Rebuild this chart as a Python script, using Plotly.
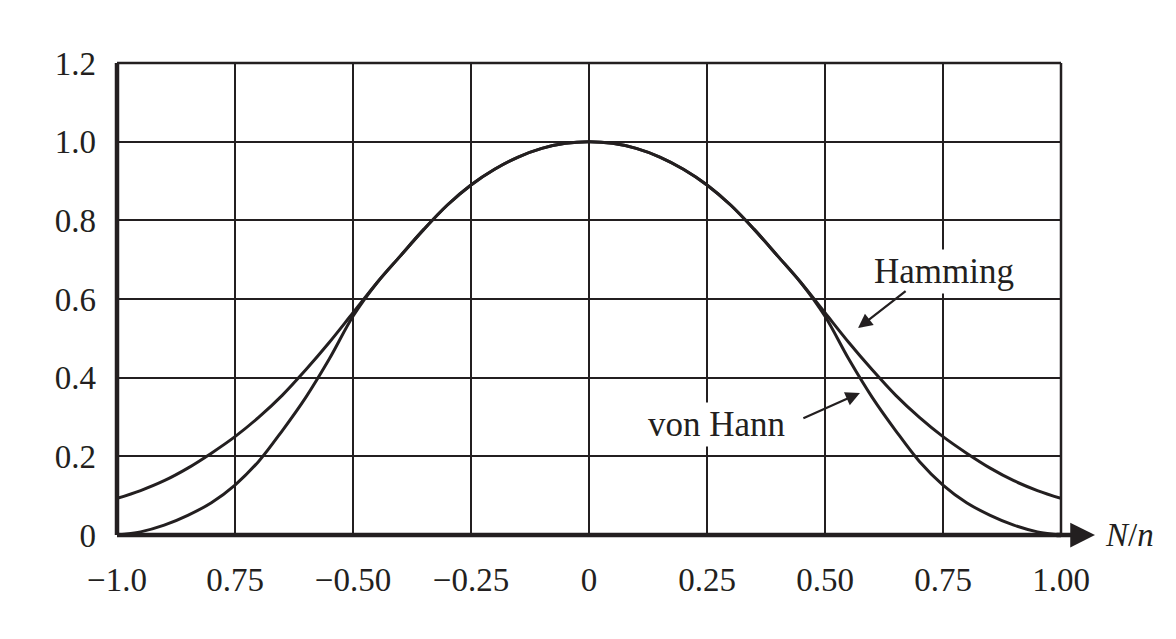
import plotly.graph_objects as go

# Data (N/n positions and window values)
n_over_N = [-1.0, -0.95, -0.9, -0.85, -0.8, -0.75, -0.7, -0.65, -0.6, -0.55, -0.5, -0.45, -0.4, -0.35, -0.3, -0.25, -0.2,
            -0.15, -0.1, -0.05, 0.0, 0.05, 0.1, 0.15, 0.2, 0.25, 0.3, 0.35, 0.4, 0.45, 0.5, 0.55, 0.6, 0.65, 0.7,
            0.75, 0.8, 0.85, 0.9, 0.95, 1.0]
hamming = [0.093, 0.113, 0.138, 0.170, 0.208, 0.250, 0.299, 0.355, 0.420, 0.490, 0.565, 0.640, 0.709, 0.777, 0.839,
           0.890, 0.930, 0.961, 0.983, 0.996, 1.000, 0.996, 0.983, 0.961, 0.930, 0.890, 0.839, 0.777, 0.709, 0.640,
           0.565, 0.490, 0.420, 0.355, 0.299, 0.250, 0.208, 0.170, 0.138, 0.113, 0.093]
von_hann = [0.000, 0.008, 0.025, 0.050, 0.082, 0.127, 0.187, 0.265, 0.350, 0.448, 0.556, 0.640, 0.709, 0.777, 0.839,
            0.890, 0.930, 0.961, 0.983, 0.996, 1.000, 0.996, 0.983, 0.961, 0.930, 0.890, 0.839, 0.777, 0.709, 0.640,
            0.556, 0.448, 0.350, 0.265, 0.187, 0.127, 0.082, 0.050, 0.025, 0.008, 0.000]

x_tickvals = [-1.0, -0.75, -0.5, -0.25, 0.0, 0.25, 0.5, 0.75, 1.0]
x_ticktext = ["\u22121.0", "0.75", "\u22120.50", "\u22120.25", "0", "0.25", "0.50", "0.75", "1.00"]
y_tickvals = [0, 0.2, 0.4, 0.6, 0.8, 1.0, 1.2]
y_ticktext = ["0", "0.2", "0.4", "0.6", "0.8", "1.0", "1.2"]

INK = "#231f20"
FONT = "Liberation Serif"

fig = go.Figure()
fig.add_trace(go.Scatter(x=n_over_N, y=hamming, mode="lines", name="Hamming",
                         line=dict(color=INK, width=3, shape="spline", smoothing=1.0)))
fig.add_trace(go.Scatter(x=n_over_N, y=von_hann, mode="lines", name="von Hann",
                         line=dict(color=INK, width=3, shape="spline", smoothing=1.0)))

fig.update_layout(
    width=1168, height=631, autosize=False,
    margin=dict(l=109, r=115, t=55, b=104),
    plot_bgcolor="white", paper_bgcolor="white",
    showlegend=False,
    font=dict(family=FONT, size=33, color=INK),
    xaxis=dict(range=[-1, 1], tickvals=x_tickvals, ticktext=x_ticktext,
               showgrid=True, gridcolor=INK, gridwidth=2, zeroline=False,
               showline=False, ticks="", ticklabelstandoff=22),
    yaxis=dict(range=[0, 1.2], tickvals=y_tickvals, ticktext=y_ticktext,
               showgrid=True, gridcolor=INK, gridwidth=2, zeroline=False,
               showline=False, ticks="", ticklabelstandoff=20),
)

# frame: top and right thin, left and bottom thick
fig.add_shape(type="line", xref="paper", yref="paper", x0=0, x1=1, y0=1, y1=1, line=dict(color=INK, width=2.5))
fig.add_shape(type="line", xref="paper", yref="paper", x0=1, x1=1, y0=0, y1=1, line=dict(color=INK, width=2.5))
fig.add_shape(type="line", xref="paper", yref="paper", x0=0, x1=0, y0=0, y1=1, line=dict(color=INK, width=4.5))
fig.add_shape(type="line", xref="paper", yref="paper", x0=0, x1=1, y0=0, y1=0, line=dict(color=INK, width=4.5))

# x-axis arrow
fig.add_annotation(xref="paper", yref="paper", x=1.036, y=0, ax=-40, ay=0, axref="pixel",
                   text="", showarrow=True, arrowhead=2, arrowsize=1.1, arrowwidth=4.5, arrowcolor=INK,
                   standoff=0)
fig.add_annotation(xref="paper", yref="paper", x=1.044, y=0, xanchor="left", yanchor="middle",
                   text="<i>N</i>/<i>n</i>", showarrow=False, font=dict(size=33, family=FONT, color=INK))

# labels
fig.add_annotation(x=0.752, y=0.671, xref="x", yref="y", text="Hamming", showarrow=False,
                   bgcolor="white", borderpad=2, font=dict(size=35, family=FONT, color=INK))
fig.add_annotation(x=0.570, y=0.526, ax=0.674, ay=0.623, xref="x", yref="y", axref="x", ayref="y",
                   text="", showarrow=True, arrowhead=2, arrowsize=1.3, arrowwidth=2.2, arrowcolor=INK)
fig.add_annotation(x=0.271, y=0.28, xref="x", yref="y", text="von Hann", showarrow=False,
                   bgcolor="white", borderpad=2, font=dict(size=35, family=FONT, color=INK))
fig.add_annotation(x=0.574, y=0.361, ax=0.451, ay=0.295, xref="x", yref="y", axref="x", ayref="y",
                   text="", showarrow=True, arrowhead=2, arrowsize=1.3, arrowwidth=2.2, arrowcolor=INK)

fig.write_html("out.html")
